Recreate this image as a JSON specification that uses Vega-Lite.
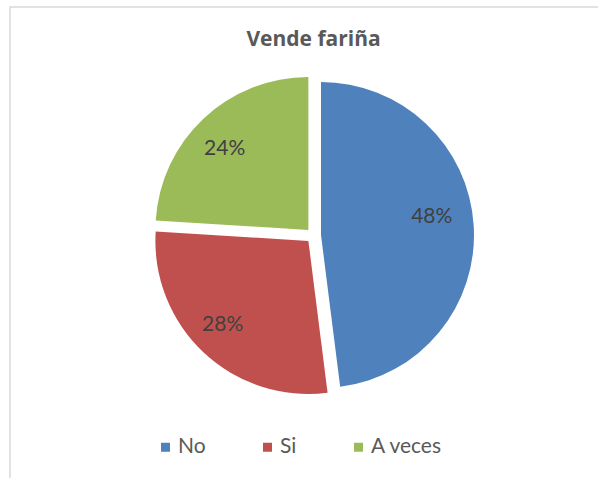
{
  "$schema": "https://vega.github.io/schema/vega-lite/v6.json",
  "autosize": {"type": "none"},
  "width": 607,
  "height": 480,
  "padding": {"left": 10, "top": 7, "right": -19, "bottom": -9},
  "background": "white",
  "view": {"stroke": "#d9d9d9", "strokeWidth": 1.5},
  "title": {
    "text": "Vende fariña",
    "fontSize": 21,
    "fontWeight": "bold",
    "font": "Open Sans",
    "color": "#595959",
    "anchor": "middle",
    "frame": "group",
    "offset": -46
  },
  "data": {
    "values": [
      {"respuesta": "No", "porcentaje": 48, "orden": 1},
      {"respuesta": "Si", "porcentaje": 28, "orden": 2},
      {"respuesta": "A veces", "porcentaje": 24, "orden": 3}
    ]
  },
  "transform": [
    {"stack": "porcentaje", "groupby": [], "sort": [{"field": "orden", "order": "ascending"}], "as": ["inicio", "fin"]},
    {"calculate": "(datum.inicio + datum.fin) / 2", "as": "medio"},
    {"calculate": "datum.porcentaje + '%'", "as": "etiqueta"}
  ],
  "layer": [
    {
      "mark": {"type": "point", "opacity": 0},
      "encoding": {
        "x": {"field": "orden", "type": "quantitative", "axis": null},
        "y": {"field": "orden", "type": "quantitative", "axis": null}
      }
    },
    {
      "transform": [{"filter": "datum.respuesta === 'No'"}],
      "mark": {"type": "arc", "outerRadius": 153, "xOffset": 7.5, "yOffset": -12},
      "encoding": {
        "theta": {"field": "inicio", "type": "quantitative", "scale": {"domain": [0, 100]}},
        "theta2": {"field": "fin"},
        "color": {
          "field": "respuesta",
          "type": "nominal",
          "scale": {"domain": ["No", "Si", "A veces"], "range": ["#4F81BD", "#C0504D", "#9BBB59"]},
          "legend": {
            "orient": "none",
            "legendX": 145,
            "legendY": 429.5,
            "direction": "horizontal",
            "title": null,
            "symbolType": "square",
            "symbolSize": 81,
            "symbolStrokeWidth": 0,
            "labelFontSize": 21,
            "labelFont": "Lato",
            "labelColor": "#595959",
            "columnPadding": 51,
            "labelOffset": 2,
            "padding": 0
          }
        }
      }
    },
    {
      "transform": [{"filter": "datum.respuesta === 'Si'"}],
      "mark": {"type": "arc", "outerRadius": 153, "xOffset": -5.1, "yOffset": -6},
      "encoding": {
        "theta": {"field": "inicio", "type": "quantitative", "scale": {"domain": [0, 100]}},
        "theta2": {"field": "fin"},
        "color": {"field": "respuesta", "type": "nominal"}
      }
    },
    {
      "transform": [{"filter": "datum.respuesta === 'A veces'"}],
      "mark": {"type": "arc", "outerRadius": 153, "xOffset": -5.1, "yOffset": -17},
      "encoding": {
        "theta": {"field": "inicio", "type": "quantitative", "scale": {"domain": [0, 100]}},
        "theta2": {"field": "fin"},
        "color": {"field": "respuesta", "type": "nominal"}
      }
    },
    {
      "transform": [{"filter": "datum.respuesta === 'No'"}],
      "mark": {"type": "text", "radius": 115, "xOffset": 7.5, "yOffset": -12, "dx": -4, "dy": -11, "font": "Lato", "fontSize": 21, "color": "#404040", "baseline": "middle", "align": "center"},
      "encoding": {
        "theta": {"field": "medio", "type": "quantitative", "scale": {"domain": [0, 100]}},
        "text": {"field": "etiqueta", "type": "nominal"}
      }
    },
    {
      "transform": [{"filter": "datum.respuesta === 'Si'"}],
      "mark": {"type": "text", "radius": 115, "xOffset": -5.1, "yOffset": -6, "dx": -7, "dy": 0, "font": "Lato", "fontSize": 21, "color": "#404040", "baseline": "middle", "align": "center"},
      "encoding": {
        "theta": {"field": "medio", "type": "quantitative", "scale": {"domain": [0, 100]}},
        "text": {"field": "etiqueta", "type": "nominal"}
      }
    },
    {
      "transform": [{"filter": "datum.respuesta === 'A veces'"}],
      "mark": {"type": "text", "radius": 115, "xOffset": -5.1, "yOffset": -17, "dx": -5, "dy": 3, "font": "Lato", "fontSize": 21, "color": "#404040", "baseline": "middle", "align": "center"},
      "encoding": {
        "theta": {"field": "medio", "type": "quantitative", "scale": {"domain": [0, 100]}},
        "text": {"field": "etiqueta", "type": "nominal"}
      }
    }
  ],
  "config": {
    "view": {"stroke": "#d9d9d9", "strokeWidth": 1.5},
    "font": "Lato"
  }
}
